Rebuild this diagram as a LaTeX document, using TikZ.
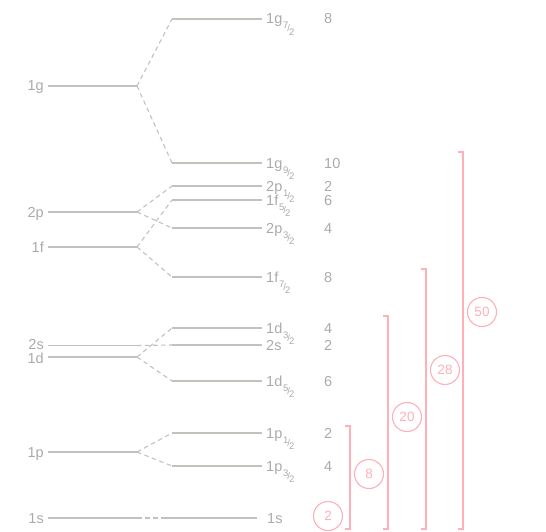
\documentclass[tikz,border=0pt]{standalone}
\usepackage{fontspec}
\setmainfont{Liberation Sans}
\definecolor{lvl}{RGB}{196,193,188}
\definecolor{txt}{RGB}{172,170,167}
\definecolor{magic}{RGB}{255,176,184}
% j-value written as a small slanted fraction below the orbital name
\newcommand\jfr[2]{\kern0.8pt{\fontsize{9.5}{9.5}\selectfont\raisebox{-5pt}{#1}\kern-1pt\raisebox{-8pt}{/}\kern-1pt\raisebox{-11.5pt}{#2}}}
\begin{document}
\begin{tikzpicture}[x=1pt,y=-1pt,
  level/.style={draw=lvl,line width=1.2pt},
  split/.style={draw=lvl,line width=1.1pt,dash pattern=on 4.5pt off 3.5pt},
  lab/.style={text=txt,font=\fontsize{14.5}{14.5}\selectfont,inner sep=0pt},
  bracket/.style={draw=magic,line width=1.1pt},
  magicnum/.style={draw=magic,line width=1.1pt,circle,minimum size=29pt,inner sep=0pt,
    text=magic,font=\fontsize{13.5}{13.5}\selectfont}]
\useasboundingbox (0,0) rectangle (546,532);

% unsplit levels on the left
\foreach \nm/\y/\dy in {1g/86/5,2p/212/5,1f/247/5,2s/345.5/3.8,1d/357/6,1p/452/5,1s/518/5}{
  \coordinate (\nm a) at (48,\y);
  \coordinate (\nm b) at (137,\y);
  \draw[level] (\nm a) -- (\nm b);
  \node[lab,anchor=base east] (\nm lab) at (44,\y+\dy) {\nm};
}

% spin-orbit split levels on the right
\foreach \nm/\y/\orb/\jn/\cnt in {g7/19/1g/7/8,g9/163/1g/9/10,p1/186/2p/1/2,f5/200/1f/5/6,
  p3/228/2p/3/4,f7/277/1f/7/8,d3/328/1d/3/4,d5/381/1d/5/6,pa/433/1p/1/2,pb/466/1p/3/4}{
  \coordinate (\nm a) at (172,\y);
  \coordinate (\nm b) at (262,\y);
  \draw[level] (\nm a) -- (\nm b);
  \node[lab,anchor=base west] (\nm lab) at (266,\y+5) {\orb\jfr{\jn}{2}};
  \node[lab,anchor=base west] (\nm cnt) at (324,\y+5) {\cnt};
}
% s levels (no splitting)
\coordinate (s2a) at (172,345);
\coordinate (s2b) at (262,345);
\draw[level] (s2a) -- (s2b);
\node[lab,anchor=base west] (s2lab) at (266,350) {2s};
\node[lab,anchor=base west] (s2cnt) at (324,350) {2};
\coordinate (s1a) at (165,518);
\coordinate (s1b) at (257,518);
\draw[level] (s1a) -- (s1b);
\node[lab,anchor=base west] (s1lab) at (267,523) {1s};

% dashed connections
\draw[split] (1gb) -- (g7a);
\draw[split] (1gb) -- (g9a);
\draw[split] (2pb) -- (p1a);
\draw[split] (2pb) -- (p3a);
\draw[split] (1fb) -- (f5a);
\draw[split] (1fb) -- (f7a);
\draw[split] (2sb) -- (s2a);
\draw[split] (1db) -- (d3a);
\draw[split] (1db) -- (d5a);
\draw[split] (1pb) -- (paa);
\draw[split] (1pb) -- (pba);
\draw[split] (1sb) -- (s1a);

% magic-number shells
\node[magicnum] (m2) at (328,516) {2};
\foreach \nm/\x/\top/\cx/\cy in {8/350/426/369/474,20/388/316/407/417,28/426/269/445/370,50/463/152/482/312}{
  \draw[bracket] (\x-5,\top) -- (\x,\top) -- (\x,529) -- (\x-5,529);
  \node[magicnum] (m\nm) at (\cx,\cy) {\nm};
}
\end{tikzpicture}
\end{document}
